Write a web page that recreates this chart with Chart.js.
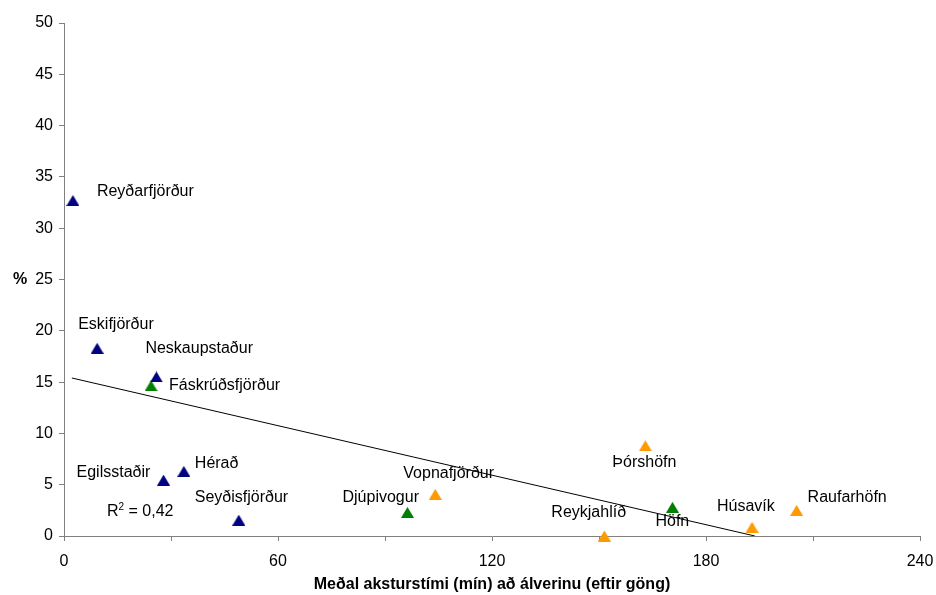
<!DOCTYPE html>
<html>
<head>
<meta charset="utf-8">
<script src="https://cdn.jsdelivr.net/npm/chart.js@4.4.0/dist/chart.umd.min.js"></script>
<style>
  html, body { margin: 0; padding: 0; background: #fff; }
  #wrap { width: 936px; height: 595px; }
</style>
</head>
<body>
<div id="wrap"><canvas id="chart" width="936" height="595"></canvas></div>
<script>
// towns, driving time to the smelter (min) and share (%)
const towns = ['Reyðarfjörður', 'Eskifjörður', 'Neskaupstaður', 'Fáskrúðsfjörður', 'Egilsstaðir', 'Hérað',
  'Seyðisfjörður', 'Djúpivogur', 'Vopnafjörður', 'Reykjahlíð', 'Þórshöfn', 'Höfn', 'Húsavík', 'Raufarhöfn'];
const minutes = [2.5, 9.3, 25.9, 24.4, 27.9, 33.6, 49.0, 96.3, 104.1, 151.5, 163.0, 170.6, 192.9, 205.4];
const percent = [32.7, 18.3, 15.5, 14.65, 5.45, 6.3, 1.55, 2.3, 4.06, 0.0, 8.8, 2.8, 0.85, 2.5];
const areas = ['mid', 'mid', 'mid', 'south', 'mid', 'mid', 'mid', 'south', 'north', 'north', 'north', 'south', 'north', 'north'];

const areaNames = ['mid', 'south', 'north'];
const areaColors = { mid: '#000080', south: '#008000', north: '#FF9900' };

// linear trend line end points and R²
const trendX = [2.2, 193.7];
const trendY = [15.4, 0];
const rSquared = '0,42';

const xTicks = [0, 60, 120, 180, 240];
const yTicks = [0, 5, 10, 15, 20, 25, 30, 35, 40, 45, 50];

// label placement relative to the marker (px)
const labelOffsets = {
  'Reyðarfjörður': [24, -9], 'Eskifjörður': [-19, -24], 'Neskaupstaður': [-11, -28],
  'Fáskrúðsfjörður': [18, 0], 'Egilsstaðir': [-87, -7], 'Hérað': [11, -8],
  'Seyðisfjörður': [-44, -23], 'Djúpivogur': [-65, -15], 'Vopnafjörður': [-32, -21],
  'Reykjahlíð': [-53, -23], 'Þórshöfn': [-33, 17], 'Höfn': [-17, 14],
  'Húsavík': [-35, -21], 'Raufarhöfn': [11, -13]
};

const FONT = '"Liberation Sans", Arial, sans-serif';

function triangle(color) {
  const c = document.createElement('canvas');
  c.width = 13; c.height = 11;
  const g = c.getContext('2d');
  g.fillStyle = color;
  g.beginPath();
  g.moveTo(6.5, 0);
  g.lineTo(13, 11);
  g.lineTo(0, 11);
  g.closePath();
  g.fill();
  return c;
}

const datasets = areaNames.map(a => {
  const pts = [];
  towns.forEach((t, i) => {
    if (areas[i] === a) pts.push({ x: minutes[i], y: percent[i], name: t });
  });
  return {
    type: 'scatter',
    label: a,
    data: pts,
    clip: false,
    pointStyle: triangle(areaColors[a]),
    backgroundColor: areaColors[a],
    borderColor: areaColors[a]
  };
});

datasets.push({
  type: 'line',
  label: 'trend',
  data: trendX.map((x, i) => ({ x: x, y: trendY[i] })),
  borderColor: '#000',
  borderWidth: 1,
  pointRadius: 0,
  fill: false
});

const labelsPlugin = {
  id: 'labels',
  afterDatasetsDraw(chart) {
    const ctx = chart.ctx;
    ctx.save();
    ctx.fillStyle = '#000';
    ctx.font = '16px ' + FONT;
    ctx.textBaseline = 'middle';
    ctx.textAlign = 'left';
    chart.data.datasets.forEach((ds, di) => {
      if (ds.type !== 'scatter') return;
      const meta = chart.getDatasetMeta(di);
      meta.data.forEach((el, j) => {
        const name = ds.data[j].name;
        const off = labelOffsets[name] || [8, -12];
        ctx.fillText(name, el.x + off[0], el.y + off[1]);
      });
    });

    // R² annotation
    const xs = chart.scales.x, ys = chart.scales.y;
    let rx = xs.getPixelForValue(12.05);
    const ry = ys.getPixelForValue(2.34);
    ctx.fillText('R', rx, ry);
    rx += ctx.measureText('R').width;
    ctx.font = '10px ' + FONT;
    ctx.fillText('2', rx, ry - 5);
    rx += ctx.measureText('2').width;
    ctx.font = '16px ' + FONT;
    ctx.fillText(' = ' + rSquared, rx, ry);

    // axis titles
    ctx.font = 'bold 16px ' + FONT;
    ctx.textAlign = 'center';
    ctx.fillText('%', 20, 280);
    ctx.fillText('Meðal aksturstími (mín) að álverinu (eftir göng)', (chart.chartArea.left + chart.chartArea.right) / 2, 585);
    ctx.restore();
  }
};

new Chart(document.getElementById('chart'), {
  data: { datasets: datasets },
  options: {
    responsive: false,
    animation: false,
    layout: { padding: { left: 0, top: 23, right: 0, bottom: 0 } },
    plugins: { legend: { display: false }, tooltip: { enabled: false } },
    scales: {
      x: {
        type: 'linear',
        min: 0,
        max: 240,
        afterFit: s => { s.height = 59; s.paddingRight = 16; s.paddingLeft = 0; },
        afterBuildTicks: s => {
          const t = [];
          for (let v = xTicks[0]; v <= xTicks[xTicks.length - 1]; v += 30) t.push({ value: v });
          s.ticks = t;
        },
        ticks: {
          autoSkip: false,
          maxRotation: 0,
          padding: 11,
          color: '#000',
          font: { family: FONT, size: 16 },
          callback: v => xTicks.includes(v) ? String(v) : ''
        },
        grid: { drawOnChartArea: false, drawTicks: true, tickLength: 5, color: '#808080' },
        border: { color: '#808080', width: 1 }
      },
      y: {
        type: 'linear',
        min: 0,
        max: 50,
        afterFit: s => { s.width = 64; },
        afterBuildTicks: s => { s.ticks = yTicks.map(v => ({ value: v })); },
        ticks: {
          autoSkip: false,
          padding: 6,
          color: '#000',
          font: { family: FONT, size: 16 }
        },
        grid: { drawOnChartArea: false, drawTicks: true, tickLength: 5, color: '#808080' },
        border: { color: '#808080', width: 1 }
      }
    }
  },
  plugins: [labelsPlugin]
});
</script>
</body>
</html>
